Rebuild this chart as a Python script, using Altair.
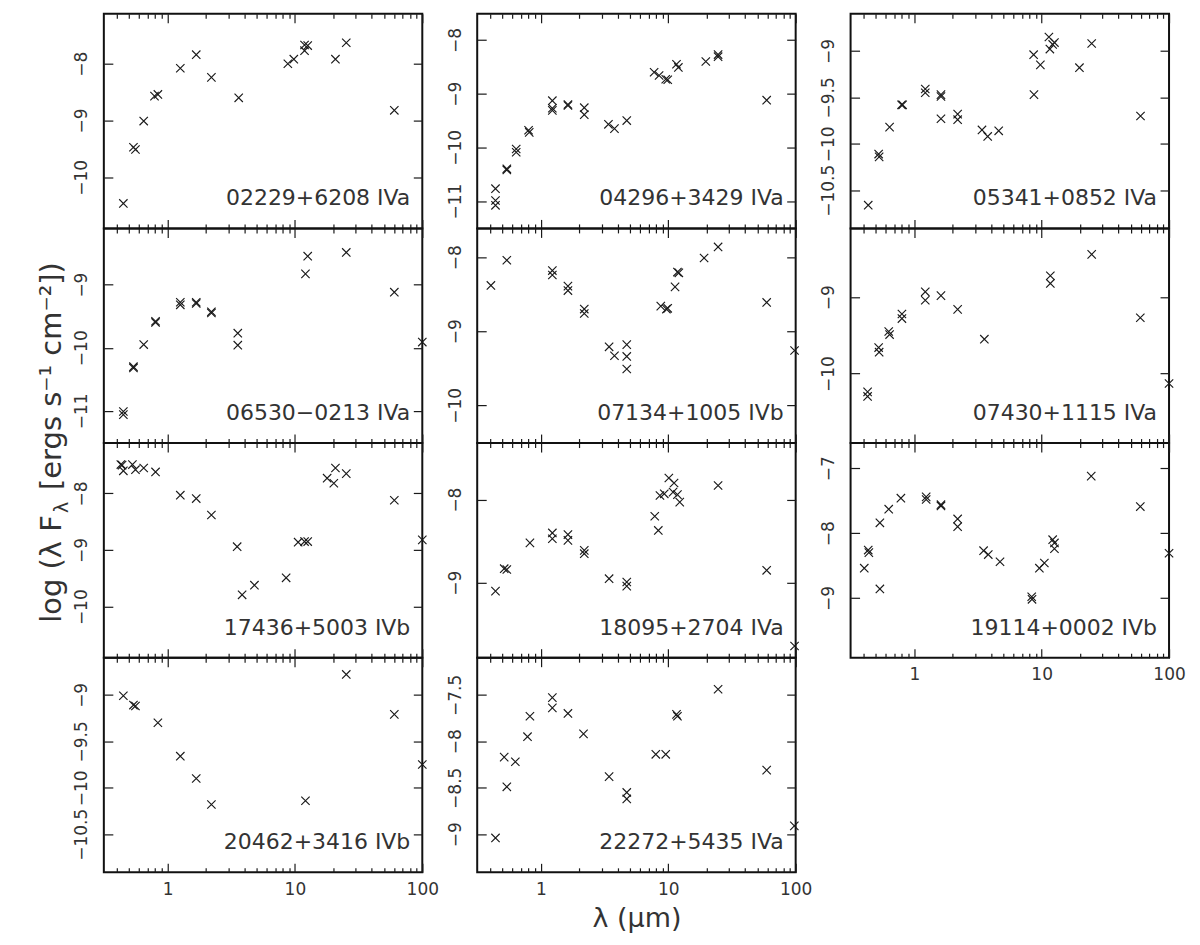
import altair as alt
import pandas as pd

FONT = "DejaVu Sans"
INK = "#1a1a1a"
TXT = "#333333"

XMIN, XMAX = 0.3162, 100
MAJOR = [1, 10, 100]
MINOR = [0.4, 0.5, 0.6, 0.7, 0.8, 0.9, 2, 3, 4, 5, 6, 7, 8, 9,
         20, 30, 40, 50, 60, 70, 80, 90]
W, H = 319, 215
XSHAPE = "M-1,-1L1,1M-1,1L1,-1"

# ---------------- data (wavelength in micron, log lambda F_lambda) ----------------
p1_name = "02229+6208 IVa"
p1_x = [0.45, 0.54, 0.56, 0.65, 0.79, 0.84, 1.26, 1.68, 2.21, 3.62, 8.8, 9.8, 11.9, 11.9, 12.6, 20.8, 25.3, 60.3]
p1_y = [-10.46, -9.47, -9.51, -9.01, -8.57, -8.54, -8.08, -7.84, -8.24, -8.60, -8.00, -7.92, -7.77, -7.67, -7.68, -7.92, -7.63, -8.82]
p1_ylim = [-10.9, -7.12]
p1_yticks = [-10, -9, -8]

p2_name = "04296+3429 IVa"
p2_x = [0.44, 0.44, 0.44, 0.54, 0.54, 0.64, 0.64, 0.81, 0.80, 1.23, 1.23, 1.23, 1.63, 1.63, 2.19, 2.19, 3.39, 3.78, 4.72, 7.74, 8.47, 9.55, 9.9, 11.6, 12.0, 19.7, 24.6, 24.6, 59.2]
p2_y = [-10.77, -10.99, -11.08, -10.40, -10.42, -10.09, -10.03, -9.72, -9.68, -9.13, -9.31, -9.27, -9.22, -9.20, -9.26, -9.39, -9.57, -9.65, -9.50, -8.60, -8.66, -8.73, -8.74, -8.45, -8.51, -8.40, -8.27, -8.31, -9.12]
p2_ylim = [-11.51, -7.51]
p2_yticks = [-11, -10, -9, -8]

p3_name = "05341+0852 IVa"
p3_x = [0.435, 0.525, 0.53, 0.64, 0.795, 0.81, 1.22, 1.22, 1.62, 1.62, 1.62, 2.19, 2.19, 3.4, 3.77, 4.6, 8.65, 8.7, 9.77, 11.4, 11.6, 12.2, 12.6, 19.8, 24.7, 59.7]
p3_y = [-10.66, -10.11, -10.14, -9.82, -9.58, -9.58, -9.41, -9.45, -9.47, -9.49, -9.73, -9.68, -9.74, -9.85, -9.92, -9.86, -9.04, -9.47, -9.15, -8.85, -8.98, -8.93, -8.91, -9.18, -8.92, -9.70]
p3_ylim = [-10.91, -8.60]
p3_yticks = [-10.5, -10, -9.5, -9]

p4_name = "06530\u22120213 IVa"
p4_x = [0.45, 0.45, 0.54, 0.54, 0.65, 0.805, 0.805, 1.26, 1.26, 1.68, 1.68, 2.21, 2.21, 3.56, 3.56, 12.1, 12.6, 25.3, 60.3, 100]
p4_y = [-11.01, -11.06, -10.30, -10.32, -9.95, -9.58, -9.60, -9.28, -9.32, -9.28, -9.30, -9.43, -9.45, -9.77, -9.96, -8.83, -8.55, -8.49, -9.12, -9.91]
p4_ylim = [-11.51, -8.11]
p4_yticks = [-11, -10, -9]

p5_name = "07134+1005 IVb"
p5_x = [0.405, 0.54, 1.23, 1.23, 1.63, 1.63, 2.19, 2.19, 3.43, 3.78, 4.72, 4.72, 4.72, 8.73, 9.67, 9.9, 11.3, 11.8, 12.1, 19.1, 24.6, 59.2, 98]
p5_y = [-8.38, -8.04, -8.18, -8.24, -8.39, -8.45, -8.70, -8.76, -9.21, -9.33, -9.18, -9.34, -9.51, -8.66, -8.70, -8.69, -8.40, -8.20, -8.21, -8.01, -7.86, -8.61, -9.26]
p5_ylim = [-10.51, -7.61]
p5_yticks = [-10, -9, -8]

p6_name = "07430+1115 IVa"
p6_x = [0.43, 0.43, 0.525, 0.53, 0.63, 0.64, 0.8, 0.8, 1.22, 1.22, 1.62, 2.19, 3.55, 11.7, 11.7, 24.7, 59.5, 100]
p6_y = [-10.24, -10.30, -9.66, -9.72, -9.45, -9.49, -9.22, -9.28, -8.93, -9.04, -8.98, -9.16, -9.55, -8.72, -8.82, -8.44, -9.27, -10.13]
p6_ylim = [-10.91, -8.10]
p6_yticks = [-10, -9]

p7_name = "17436+5003 IVb"
p7_x = [0.43, 0.44, 0.45, 0.53, 0.56, 0.65, 0.805, 1.26, 1.68, 2.21, 3.52, 3.85, 4.81, 8.53, 10.6, 11.9, 12.6, 17.9, 20.2, 20.8, 25.3, 60.3, 100]
p7_y = [-7.49, -7.50, -7.60, -7.49, -7.58, -7.55, -7.62, -8.03, -8.09, -8.38, -8.94, -9.79, -9.62, -9.49, -8.86, -8.85, -8.85, -7.73, -7.82, -7.55, -7.65, -8.12, -8.82]
p7_ylim = [-10.9, -7.11]
p7_yticks = [-10, -9, -8]

p8_name = "18095+2704 IVa"
p8_x = [0.44, 0.515, 0.54, 0.82, 1.23, 1.23, 1.63, 1.63, 2.19, 2.19, 3.43, 4.72, 4.72, 7.83, 8.35, 8.6, 9.3, 10.1, 11.1, 10.9, 11.8, 12.3, 24.6, 59.2, 98]
p8_y = [-9.10, -8.83, -8.84, -8.52, -8.40, -8.47, -8.42, -8.49, -8.61, -8.65, -8.95, -8.99, -9.04, -8.20, -8.37, -7.95, -7.93, -7.74, -7.80, -7.91, -7.94, -8.03, -7.83, -8.85, -9.76]
p8_ylim = [-9.9, -7.32]
p8_yticks = [-9, -8]

p9_name = "19114+0002 IVb"
p9_x = [0.405, 0.435, 0.44, 0.537, 0.537, 0.63, 0.785, 1.24, 1.24, 1.62, 1.62, 2.19, 2.19, 3.5, 3.81, 4.71, 8.35, 8.4, 9.6, 10.5, 12.2, 12.6, 12.6, 24.5, 59.5, 100]
p9_y = [-8.54, -8.26, -8.30, -7.84, -8.86, -7.63, -7.46, -7.44, -7.48, -7.56, -7.58, -7.78, -7.90, -8.27, -8.33, -8.44, -8.98, -9.02, -8.54, -8.46, -8.10, -8.15, -8.24, -7.12, -7.59, -8.31]
p9_ylim = [-9.92, -6.61]
p9_yticks = [-9, -8, -7]

p10_name = "20462+3416 IVb"
p10_x = [0.45, 0.54, 0.56, 0.84, 1.26, 1.68, 2.21, 12.1, 25.3, 60.3, 100]
p10_y = [-9.01, -9.11, -9.12, -9.30, -9.66, -9.90, -10.18, -10.14, -8.78, -9.21, -9.75]
p10_ylim = [-10.91, -8.60]
p10_yticks = [-10.5, -10, -9.5, -9]

p11_name = "22272+5435 IVa"
p11_x = [0.44, 0.515, 0.54, 0.63, 0.785, 0.82, 1.23, 1.23, 1.63, 2.16, 3.43, 4.72, 4.72, 7.98, 9.55, 11.6, 11.8, 24.6, 59.2, 97.6]
p11_y = [-9.04, -8.17, -8.49, -8.22, -7.95, -7.73, -7.53, -7.64, -7.70, -7.92, -8.38, -8.55, -8.62, -8.14, -8.14, -7.71, -7.73, -7.44, -8.31, -8.91]
p11_ylim = [-9.41, -7.10]
p11_yticks = [-9, -8.5, -8, -7.5]

X_TITLE = "\u03bb (\u03bcm)"
Y_TITLE_A = "log (\u03bb F"
Y_TITLE_SUB = "\u03bb"
Y_TITLE_B = "[ergs s\u207b\u00b9 cm\u207b\u00b2])"


def tick_axis(orient, values, size, **kw):
    return alt.Axis(orient=orient, values=values, tickSize={"expr": str(-size)},
                    domain=False, grid=False, tickColor=INK, tickWidth=1.2,
                    labelFlush=False, labelOverlap=False, **kw)


def one_text(txt, size, x, y, angle=0, align="left", baseline="alphabetic"):
    return alt.Chart(pd.DataFrame({"t": [txt]})).mark_text(
        angle=angle, align=align, baseline=baseline, font=FONT,
        fontSize=size, color=TXT
    ).encode(text="t:N", x=alt.value(x), y=alt.value(y))


def panel(name, xs, ys, ylim, yticks, xlabels=False, xtitle=None, extra=()):
    df = pd.DataFrame({"wl": xs, "flux": ys})
    xsc = alt.Scale(type="log", domain=[XMIN, XMAX], nice=False)
    ysc = alt.Scale(domain=ylim, nice=False, zero=False)
    base = alt.Chart(df)

    x_bottom = tick_axis("bottom", MAJOR, 9, labels=xlabels, format="d",
                         labelFont=FONT, labelFontSize=17, labelColor=TXT,
                         labelPadding=18, title=xtitle, titleFont=FONT,
                         titleFontSize=27, titleFontWeight="normal",
                         titleColor=TXT, titlePadding=8)
    y_left = tick_axis("left", yticks, 9, format=".1~f", labelAngle=270,
                       labelAlign="center", labelBaseline="bottom",
                       labelPadding=22, labelFont=FONT, labelFontSize=17,
                       labelColor=TXT, title=None)

    pts = base.mark_point(shape=XSHAPE, size=70, filled=False, stroke=INK,
                          strokeWidth=1.15, opacity=1).encode(
        x=alt.X("wl:Q", scale=xsc, axis=x_bottom),
        y=alt.Y("flux:Q", scale=ysc, axis=y_left),
    )
    minor_b = base.mark_point(opacity=0).encode(
        x=alt.X("wl:Q", scale=xsc, axis=tick_axis("bottom", MINOR, 4.5, labels=False, title=None)),
        y=alt.Y("flux:Q", scale=ysc, axis=tick_axis("right", yticks, 9, labels=False, title=None)),
    )
    major_t = base.mark_point(opacity=0).encode(
        x=alt.X("wl:Q", scale=xsc, axis=tick_axis("top", MAJOR, 9, labels=False, title=None)),
        y=alt.Y("flux:Q", scale=ysc, axis=None),
    )
    minor_t = base.mark_point(opacity=0).encode(
        x=alt.X("wl:Q", scale=xsc, axis=tick_axis("top", MINOR, 4.5, labels=False, title=None)),
        y=alt.Y("flux:Q", scale=ysc, axis=None),
    )
    label = one_text(name, 22, W - 12, H - 30, align="right", baseline="middle")

    return alt.layer(pts, minor_b, major_t, minor_t, label, *extra).resolve_axis(
        x="independent", y="independent"
    ).properties(width=W, height=H,
                 view=alt.ViewBackground(stroke="#111111", strokeWidth=2))


# layout pin (keeps the left margin for the shared y title) and shared y title
pin = alt.Chart(pd.DataFrame({"a": [0]})).mark_rule(strokeOpacity=0).encode(
    x=alt.value(-90), y=alt.value(0), y2=alt.value(10))
ytitle = [
    one_text(Y_TITLE_A, 29, -43, 395, angle=270),
    one_text(Y_TITLE_SUB, 19, -36, 285, angle=270),
    one_text(Y_TITLE_B, 29, -43, 262, angle=270),
]

P1 = panel(p1_name, p1_x, p1_y, p1_ylim, p1_yticks, extra=[pin])
P2 = panel(p2_name, p2_x, p2_y, p2_ylim, p2_yticks)
P3 = panel(p3_name, p3_x, p3_y, p3_ylim, p3_yticks)
P4 = panel(p4_name, p4_x, p4_y, p4_ylim, p4_yticks, extra=ytitle)
P5 = panel(p5_name, p5_x, p5_y, p5_ylim, p5_yticks)
P6 = panel(p6_name, p6_x, p6_y, p6_ylim, p6_yticks)
P7 = panel(p7_name, p7_x, p7_y, p7_ylim, p7_yticks)
P8 = panel(p8_name, p8_x, p8_y, p8_ylim, p8_yticks)
P9 = panel(p9_name, p9_x, p9_y, p9_ylim, p9_yticks, xlabels=True)
P10 = panel(p10_name, p10_x, p10_y, p10_ylim, p10_yticks, xlabels=True)
P11 = panel(p11_name, p11_x, p11_y, p11_ylim, p11_yticks, xlabels=True, xtitle=X_TITLE)

chart = alt.concat(P1, P2, P3, P4, P5, P6, P7, P8, P9, P10, P11,
                   columns=3, spacing={"row": 0, "column": 55}, bounds="flush"
                   ).properties(padding={"top": 3, "left": 5, "right": 5, "bottom": 5},
                                background="white"
                   ).configure_view(stroke="#111111", strokeWidth=2)

chart.save("out.html", embed_options={"renderer": "svg", "actions": False})
